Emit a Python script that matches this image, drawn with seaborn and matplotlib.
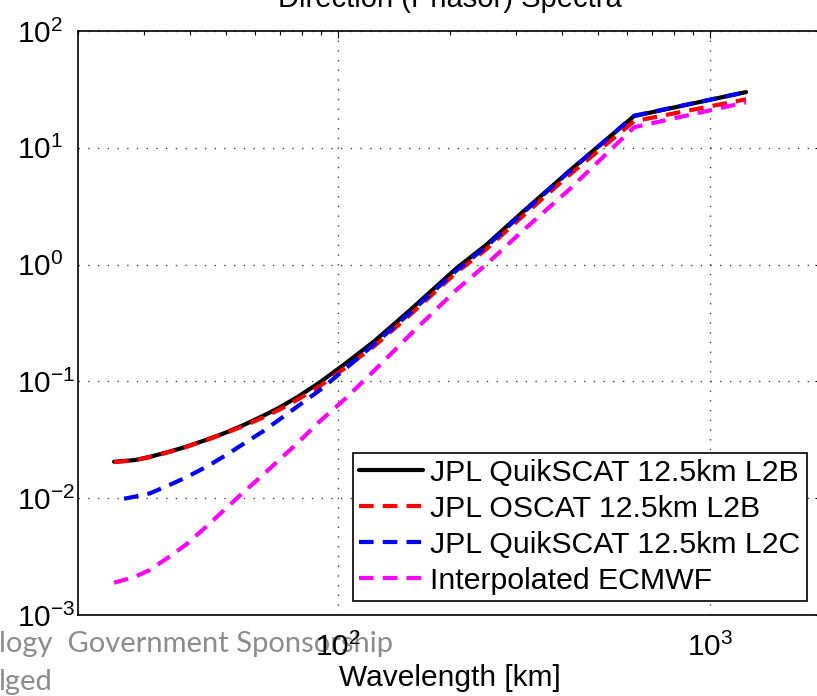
import matplotlib
matplotlib.use("Agg")
import matplotlib.pyplot as plt
import seaborn as sns
from matplotlib.ticker import LogLocator, LogFormatterSciNotation, NullFormatter

# Wavelength grid of the spectra (km) and spectral levels per product
wavelength_km = [1250, 625, 417, 312, 250, 208, 156, 125, 104, 89.3, 78.1,
                 69.4, 62.5, 56.8, 50, 44.6, 39.1, 34.7, 31.2, 28.4, 25]
wavelength_l2c_km = [1250, 625, 417, 312, 250, 208, 156, 125, 104, 89.3, 78.1,
                     69.4, 62.5, 56.8, 50, 44.6, 39.1, 34.7, 31.2, 28.4, 26.6]

qscat_l2b = [30, 18.7, 6.27, 2.78, 1.47, 0.929, 0.406, 0.22, 0.14, 0.098, 0.074,
             0.0594, 0.0502, 0.0435, 0.0365, 0.0319, 0.0276, 0.0247, 0.0226, 0.0212, 0.0205]
oscat_l2b = [26, 16.9, 5.8, 2.56, 1.35, 0.855, 0.37, 0.2, 0.129, 0.091, 0.0703,
             0.057, 0.0487, 0.0426, 0.0362, 0.0317, 0.0275, 0.0246, 0.0225, 0.0211, 0.0204]
qscat_l2c = [30, 18.8, 6.2, 2.72, 1.42, 0.89, 0.385, 0.208, 0.126, 0.0841, 0.0616,
             0.0469, 0.0369, 0.0304, 0.0234, 0.0188, 0.0151, 0.0127, 0.0110, 0.0103, 0.0099]
ecmwf = [24.5, 15, 4.35, 1.92, 1.0, 0.608, 0.25, 0.1234, 0.070, 0.0455, 0.030,
         0.0212, 0.0156, 0.0119, 0.0082, 0.00585, 0.00402, 0.00306, 0.00243, 0.00212, 0.00189]

series_labels = ["JPL QuikSCAT 12.5km L2B", "JPL OSCAT 12.5km L2B",
                 "JPL QuikSCAT 12.5km L2C", "Interpolated ECMWF"]

sns.set_theme(style="white")
plt.rcParams.update({
    "font.family": ["Liberation Sans", "DejaVu Sans"],
    "mathtext.fontset": "custom",
    "mathtext.rm": "Liberation Sans",
    "mathtext.it": "Liberation Sans:italic",
    "mathtext.bf": "Liberation Sans:bold",
    "mathtext.default": "rm",
    "axes.edgecolor": "black",
    "text.color": "black",
    "axes.labelcolor": "black",
    "xtick.color": "black",
    "ytick.color": "black",
    "xtick.labelsize": 21.5,
    "ytick.labelsize": 21.5,
})

W, H = 817, 696
fig = plt.figure(figsize=(W / 100, H / 100), dpi=100)
ax = fig.add_axes([78 / W, 1 - 615 / H, 744 / W, 584 / H])
ax.set_xscale("log")
ax.set_yscale("log")

dash = (0, (3.5, 2.2))
lines = [
    (wavelength_km, qscat_l2b, "black", "-"),
    (wavelength_km, oscat_l2b, "#ff0000", dash),
    (wavelength_l2c_km, qscat_l2c, "#0000ff", dash),
    (wavelength_km, ecmwf, "#ff00ff", dash),
]
for label, (xs, ys, color, ls) in zip(series_labels, lines):
    sns.lineplot(x=xs, y=ys, ax=ax, color=color, linestyle=ls, lw=3,
                 label=label, errorbar=None)

ax.set_xlim(20, 2000)
ax.set_ylim(1e-3, 1e2)

for axis in (ax.xaxis, ax.yaxis):
    axis.set_major_locator(LogLocator(base=10, numticks=10))
    axis.set_minor_locator(LogLocator(base=10, subs=range(2, 10), numticks=20))
    axis.set_major_formatter(LogFormatterSciNotation())
    axis.set_minor_formatter(NullFormatter())

ax.tick_params(which="both", direction="in", top=True, right=True,
               width=0.8, labelsize=21.5)
ax.tick_params(which="major", length=5)
ax.tick_params(which="minor", length=3)
ax.tick_params(axis="x", pad=13)
# y labels share a common left edge, exponents run to the right
ax.tick_params(axis="y", pad=44)
for lbl in ax.get_yticklabels():
    lbl.set_horizontalalignment("left")

ax.grid(True, which="major", linestyle=(0, (1, 6)), color="0.25", lw=1)
ax.set_axisbelow(True)
for sp in ax.spines.values():
    sp.set_visible(True)
    sp.set_color("black")
    sp.set_linewidth(1.2)

ax.set_title("Direction (Phasor) Spectra", fontsize=21, pad=17)
ax.set_xlabel("Wavelength [km]", fontsize=21.5, labelpad=1)
ax.set_ylabel("")

leg = ax.legend(loc="upper left", bbox_to_anchor=(353 / W, 1 - 453 / H),
                bbox_transform=fig.transFigure, fontsize=21.8, frameon=True,
                fancybox=False, edgecolor="black", framealpha=1,
                borderpad=0.2, labelspacing=0.26, handlelength=2.1,
                handletextpad=0.25, borderaxespad=0)
leg.get_frame().set_linewidth(1.2)

# Slide footer text running under the plot
fig.text(-1 / W, 1 - 652 / H, "logy  Government Sponsorship", family="Lato",
         fontsize=21, color="#8c8c8c", va="baseline", ha="left", zorder=-1)
fig.text(-1 / W, 1 - 690 / H, "lged", family="Lato",
         fontsize=21, color="#8c8c8c", va="baseline", ha="left", zorder=-1)

fig.savefig("out.png", dpi=100)
